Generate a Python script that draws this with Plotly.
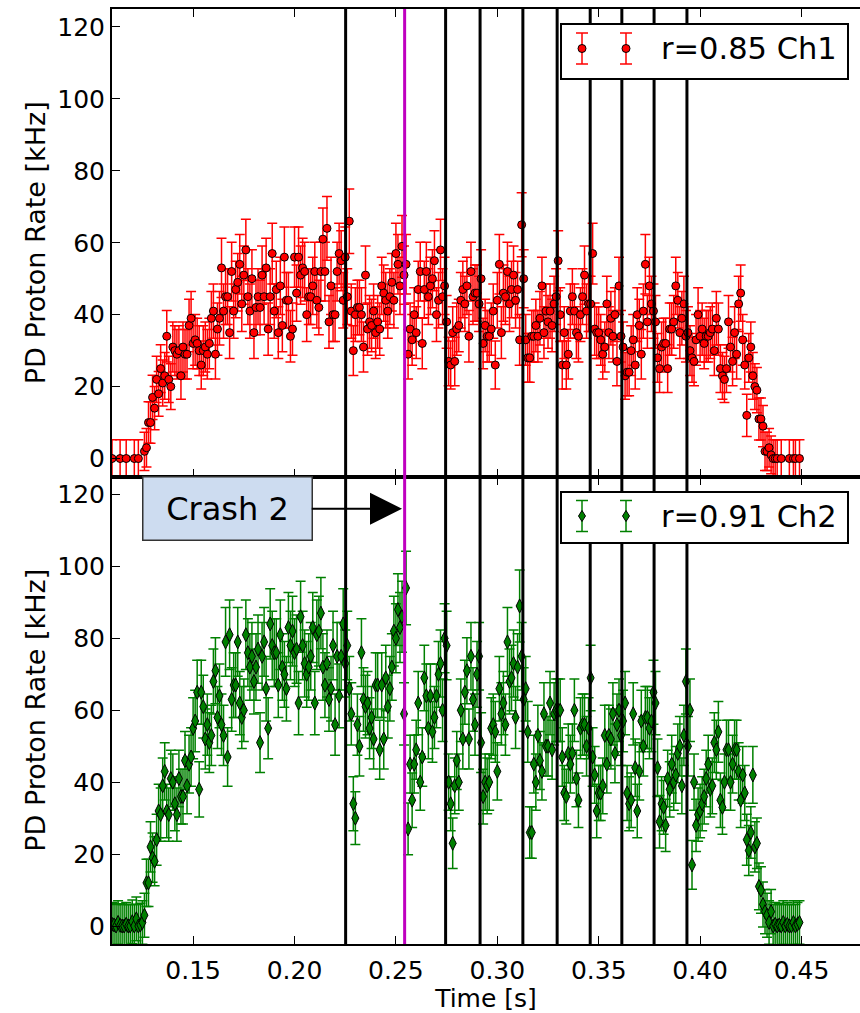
import plotly.graph_objects as go
from plotly.subplots import make_subplots

# ---------------- data ----------------
t_ms = list(range(110, 450))                 # 1 ms bins, 0.110 .. 0.449 s
time_s = [m / 1000 for m in t_ms]

rate_ch1 = [
    0, None, None, None, 0, None, None, 0, None, None,          # 110
    None, 0, None, 0, None, None, 2, 3, 10, 10,                  # 120
    17, 14, 22, 18, 25, 21, 23, 34, 22, 20,                      # 130
    31, 30, 29, 30, 23, 31, 29, 29, 37, 39,                      # 140
    32, 33, 32, 30, 26, 30, 31, 29, 32, 39,                      # 150
    41, 29, 36, 39, 53, 41, 45, 45, 35, 52,                      # 160
    41, 47, 49, 54, 43, 51, 58, 45, 41, 50,                      # 170
    35, 42, 45, 42, 51, 45, 53, 36, 45, 57,                      # 180
    41, 47, 35, 48, 37, 56, 44, 44, 34, 36,                      # 190
    56, 46, 56, 51, 53, 52, 40, 45, 45, 48,                      # 200
    52, 44, 42, 52, 61, 52, 64, 38, 48, 40,                      # 210
    40, 52, 57, 55, 44, 56, 45, 66, 41, 30,                      # 220
    40, 42, 42, 40, 31, 51, 36, 38, 37, 41,                      # 230
    35, 38, 36, 48, 46, 44, 41, 45, 49, 44,                      # 240
    57, 54, 48, 59, 51, 54, 29, 36, 33, 40,                      # 250
    35, 47, 52, 32, 47, 52, 45, 48, 50, 55,                      # 260
    40, 44, 58, 45, 48, 38, 27, 26, 35, 27,                      # 270
    36, 37, 44, 47, 43, 48, 34, 52, 45, 46,                      # 280
    46, 43, 50, 32, 37, 34, 34, 36, 41, 26,                      # 290
    44, 54, 35, 46, 45, 52, 43, 47, 51, 44,                      # 300
    47, 33, 65, 50, 33, 28, 28, 34, 34, 37,                      # 310
    34, 39, 48, 35, 41, 38, 41, 37, 43, 45,                      # 320
    55, 40, 26, 35, 26, 29, 41, 45, 41, 35,                      # 330
    34, 40, 45, 51, 41, 43, 43, 57, 36, 35,                      # 340
    35, 33, 29, 31, 43, 35, 39, 34, 40, 27,                      # 350
    48, 34, 31, 23, 24, 24, 30, 33, 26, 40,                      # 360
    37, 29, 41, 54, 38, 48, 43, 41, 38, 28,                      # 370
    25, 31, 32, 32, 25, 36, 36, 38, 48, 44,                      # 380
    35, 39, 43, 34, 35, 30, 28, 27, 33, 40,                      # 390
    34, 36, 32, 34, 34, 35, 36, 30, 39, 36,                      # 400
    25, 23, 22, 25, 38, 31, 27, 35, 29, 43,                      # 410
    46, 33, 26, 12, 28, 31, 23, 20, 19, 11,                      # 420
    11, 9, 2, 2, 3, 1, 0, 0, 0, None,                            # 430
    0, None, None, None, 0, None, 0, 0, None, 0,                 # 440
]

rate_ch2 = [
    0.5, 0.3, 0, 1, 0.2, 0, 0, 0.5, 0, 0,                        # 110
    1.2, 0, 2, 0, 0.3, 1, 3, 12, 12, 22,                         # 120
    19, 18, 24, 32, 31, 39, 43, 32, 31, 41,                      # 130
    40, 34, 31, 41, 36, 36, 46, 39, 45, 47,                      # 140
    55, 57, 65, 38, 65, 61, 52, 56, 51, 53,                      # 150
    68, 71, 58, 64, 56, 53, 79, 47, 81, 63,                      # 160
    67, 67, 79, 62, 58, 60, 81, 76, 72, 75,                      # 170
    68, 72, 77, 51, 75, 79, 66, 55, 84, 78,                      # 180
    76, 76, 67, 81, 72, 70, 66, 83, 78, 82,                      # 190
    76, 77, 62, 86, 78, 73, 70, 72, 75, 83,                      # 200
    62, 81, 82, 87, 72, 67, 73, 63, 66, 78,                      # 210
    56, 75, 64, 75, 84, 73, 78, 66, 59, 34,                      # 220
    30, 56, 50, 76, 63, 61, 62, 55, 58, 52,                      # 230
    67, 67, 49, 67, 52, 69, 61, 66, 72, 82,                      # 240
    80, 88, 83, 86, 59, 94, 27, 45, 35, 45,                      # 250
    49, 62, 40, 47, 69, 64, 55, 64, 54, 58,                      # 260
    64, 70, 73, 60, 80, 78, 40, 34, 23, 39,                      # 270
    46, 40, 60, 52, 65, 71, 52, 75, 63, 56,                      # 280
    70, 75, 51, 36, 40, 39, 40, 55, 56, 54,                      # 290
    43, 66, 59, 62, 56, 79, 68, 69, 73, 58,                      # 300
    72, 89, 75, 63, 66, 54, 26, 26, 45, 40,                      # 310
    53, 46, 43, 59, 50, 50, 62, 49, 59, 60,                      # 320
    60, 60, 47, 37, 36, 48, 45, 48, 60, 41,                      # 330
    35, 55, 56, 56, 50, 55, 69, 47, 42, 32,                      # 340
    37, 37, 39, 53, 45, 53, 52, 59, 48, 56,                      # 350
    60, 53, 57, 62, 37, 34, 35, 59, 44, 32,                      # 360
    43, 57, 50, 58, 58, 55, 57, 65, 62, 44,                      # 370
    29, 34, 33, 28, 41, 38, 45, 40, 42, 48,                      # 380
    50, 39, 53, 68, 50, 60, 17, 40, 28, 31,                      # 390
    32, 34, 36, 41, 45, 38, 39, 51, 49, 54,                      # 400
    35, 33, 40, 49, 49, 40, 45, 49, 49, 43,                      # 410
    35, 42, 37, 24, 21, 26, 42, 22, 23, 11,                      # 420
    10, 6, 4, 3, 1, 4, 0, 0.5, 0, 0.3,                           # 430
    0, 1, 0, 0.5, 0, 0, 1, 0, 0.5, 1,                            # 440
]

# statistical uncertainty grows with the rate (counting statistics)
err_ch1 = [None if v is None else 5.2 + 0.057 * v for v in rate_ch1]
err_ch2 = [None if v is None else 6.0 + 0.045 * v for v in rate_ch2]

crash_times = [0.2252, 0.2745, 0.2915, 0.3126, 0.3295, 0.3458, 0.3614, 0.3773, 0.3935]
crash2_time = 0.2543
legend_labels = ["r=0.85 Ch1", "r=0.91 Ch2"]
y_ticks = [0, 20, 40, 60, 80, 100, 120]
x_ticks = [0.15, 0.20, 0.25, 0.30, 0.35, 0.40, 0.45]
x_ticktext = ["0.15", "0.20", "0.25", "0.30", "0.35", "0.40", "0.45"]

RED = "#ff0000"
GREEN = "#008000"
MAGENTA = "#bf00bf"
FONT = "DejaVu Sans"

# ---------------- figure ----------------
W, H = 860, 1013
L, R, T, B = 112, 0, 9, 69
PW, PH = W - L - R, H - T - B

fig = make_subplots(rows=2, cols=1, shared_xaxes=True, vertical_spacing=0)

fig.add_trace(go.Scatter(
    x=time_s, y=rate_ch1, mode="markers", name=legend_labels[0],
    marker=dict(symbol="circle", size=8, color=RED, line=dict(color="black", width=1)),
    error_y=dict(type="data", array=err_ch1, color=RED, thickness=1.5, width=5),
), row=1, col=1)

fig.add_trace(go.Scatter(
    x=time_s, y=rate_ch2, mode="markers", name=legend_labels[1],
    marker=dict(symbol="diamond-tall", size=10, color=GREEN, line=dict(color="black", width=1)),
    error_y=dict(type="data", array=err_ch2, color=GREEN, thickness=1.5, width=5),
), row=2, col=1)

x_range = [0.11, 0.11 + PW / 2028.0]
tick_font = dict(family=FONT, size=25, color="black")
title_font = dict(family=FONT, size=27, color="black")

for i, xa in enumerate(["xaxis", "xaxis2"]):
    fig.layout[xa].update(
        range=x_range, showgrid=False, zeroline=False,
        showline=True, linewidth=2, linecolor="black", mirror="ticks",
        ticks="inside", ticklen=8, tickwidth=1, tickcolor="black",
        tickvals=x_ticks, ticktext=x_ticktext, tickfont=tick_font,
        showticklabels=(i == 1), ticklabelstandoff=3,
    )
fig.layout.xaxis2.title = dict(text="Time [s]", font=dict(family=FONT, size=25, color="black"),
                               standoff=10)

for ya in ["yaxis", "yaxis2"]:
    fig.layout[ya].update(
        range=[-5, 125], showgrid=False, zeroline=False,
        showline=True, linewidth=2, linecolor="black", mirror=False,
        ticks="inside", ticklen=8, tickwidth=1, tickcolor="black",
        tickvals=y_ticks, tickfont=tick_font, ticklabelstandoff=0,
        title=dict(text="PD Proton Rate [kHz]", font=title_font, standoff=4),
    )

def px(xp):
    return (xp - L) / PW

def py(yp):
    return (T + PH - yp) / PH

shapes = []
for ct in crash_times:
    shapes.append(dict(type="line", xref="x", yref="paper", x0=ct, x1=ct, y0=0, y1=1,
                       line=dict(color="black", width=3), layer="above"))
shapes.append(dict(type="line", xref="x", yref="paper", x0=crash2_time, x1=crash2_time,
                   y0=0, y1=1, line=dict(color=MAGENTA, width=3), layer="above"))

def legend_box(y_top, y_bot, y_c, bar_half, color, symbol, label):
    shapes.append(dict(type="rect", xref="paper", yref="paper",
                       x0=px(561), x1=px(848), y0=py(y_bot), y1=py(y_top),
                       line=dict(color="black", width=2), fillcolor="white", layer="above"))
    for gx in (582, 626):
        shapes.append(dict(type="line", xref="paper", yref="paper",
                           x0=px(gx), x1=px(gx), y0=py(y_c - bar_half), y1=py(y_c + bar_half),
                           line=dict(color=color, width=1.5), layer="above"))
        for yy in (y_c - bar_half, y_c + bar_half):
            shapes.append(dict(type="line", xref="paper", yref="paper",
                               x0=px(gx - 6), x1=px(gx + 6), y0=py(yy), y1=py(yy),
                               line=dict(color=color, width=1.5), layer="above"))
        if symbol == "circle":
            shapes.append(dict(type="circle", xref="paper", yref="paper",
                               x0=px(gx - 4), x1=px(gx + 4), y0=py(y_c + 4), y1=py(y_c - 4),
                               fillcolor=color, line=dict(color="black", width=1), layer="above"))
        else:
            path = "M {:.5f},{:.5f} L {:.5f},{:.5f} L {:.5f},{:.5f} L {:.5f},{:.5f} Z".format(
                px(gx), py(y_c - 5.5), px(gx + 3.5), py(y_c), px(gx), py(y_c + 5.5), px(gx - 3.5), py(y_c))
            shapes.append(dict(type="path", xref="paper", yref="paper", path=path,
                               fillcolor=color, line=dict(color="black", width=1), layer="above"))
    fig.add_annotation(xref="paper", yref="paper", x=px(659), y=py(y_c), xanchor="left",
                       yanchor="middle", text=label, showarrow=False,
                       font=dict(family=FONT, size=30.5, color="black"))

legend_box(24, 79, 48.5, 15.5, RED, "circle", legend_labels[0])
legend_box(492, 543, 516, 15.5, GREEN, "diamond", legend_labels[1])

fig.add_annotation(
    x=0.2530, y=116, xref="x2", yref="y2", ax=-175, ay=0, axref="pixel", ayref="pixel",
    text="Crash 2", showarrow=True, arrowhead=2, arrowsize=3.2, arrowwidth=2,
    arrowcolor="black", font=dict(family=FONT, size=32, color="black"),
    bgcolor="#cddcf0", bordercolor="#333333", borderwidth=1.5, borderpad=0,
    width=168, height=62,
)

fig.update_layout(
    width=W, height=H, margin=dict(l=L, r=R, t=T, b=B, autoexpand=False),
    paper_bgcolor="white", plot_bgcolor="white", showlegend=False,
    font=dict(family=FONT, size=25, color="black"), shapes=shapes,
)

fig.write_html("out.html")
